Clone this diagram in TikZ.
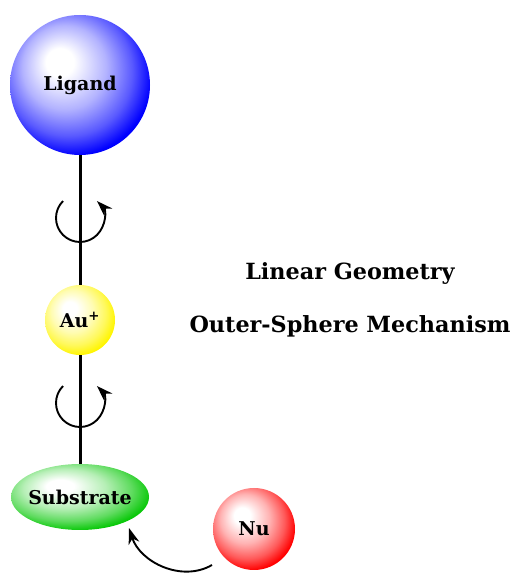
\documentclass[tikz,border=0pt]{standalone}
\usepackage{fontspec}
\setmainfont{DejaVu Serif}
\usepackage{xcolor}
\usetikzlibrary{arrows.meta,shapes.geometric}
\definecolor{ligblue}{RGB}{0,0,255}
\definecolor{auyellow}{RGB}{255,245,0}
\definecolor{subgreen}{RGB}{10,200,10}
\definecolor{nured}{RGB}{255,0,0}
\makeatletter
\pgfdeclareradialshading[tikz@ball]{glossy}{\pgfpoint{-8bp}{9bp}}{%
  color(0bp)=(white); color(5bp)=(white);
  color(15bp)=(tikz@ball!30!white); color(23bp)=(tikz@ball!65!white);
  color(29bp)=(tikz@ball); color(50bp)=(tikz@ball)}
\makeatother
\tikzset{
  sphere/.style={circle, inner sep=0pt, ball color=#1, shading=glossy,
    font=\bfseries\fontsize{19}{22}\selectfont},
  blob/.style={ellipse, inner sep=0pt, inner xsep=-3pt, ball color=#1, shading=glossy,
    font=\bfseries\fontsize{19}{22}\selectfont},
  bond/.style={line width=3pt, draw=black},
  spin/.style={-{Stealth[length=16pt,width=11pt,inset=5pt]}, line width=1.9pt},
  heading/.style={font=\bfseries\fontsize{22.3}{26}\selectfont, anchor=base},
}

\begin{document}
\begin{tikzpicture}[x=1pt,y=1pt]
\useasboundingbox (0,0) rectangle (513,576);

% spheres
\node[sphere=ligblue, minimum size=140pt] (lig) at (80,491) {Ligand};
\node[sphere=auyellow, minimum size=70pt] (au) at (80,256) {Au\textsuperscript{+}};
\node[blob=subgreen, minimum width=138pt, minimum height=66pt] (sub) at (80,79) {Substrate};
\node[sphere=nured, minimum size=82pt] (nu) at (254,47) {Nu};

% bonds
\draw[bond] (lig.south) -- (au.north);
\draw[bond] (au.south) -- (sub.north);

% free rotation about the axis
\coordinate (rotA) at (80,358);
\coordinate (rotB) at (80,173);
\foreach \c in {rotA,rotB}
  \draw[spin] ([shift={(135:24)}]\c) arc[start angle=135, end angle=405, radius=24];

% attack of the nucleophile
\coordinate (nuout) at (212,11);
\coordinate (subin) at (129,48);
\draw[spin] (nuout) to[out=210, in=-72] (subin);

% titles
\node[heading] (geo) at (350,296) {Linear Geometry};
\node[heading] (mech) at (350,243) {Outer-Sphere Mechanism};
\end{tikzpicture}
\end{document}
